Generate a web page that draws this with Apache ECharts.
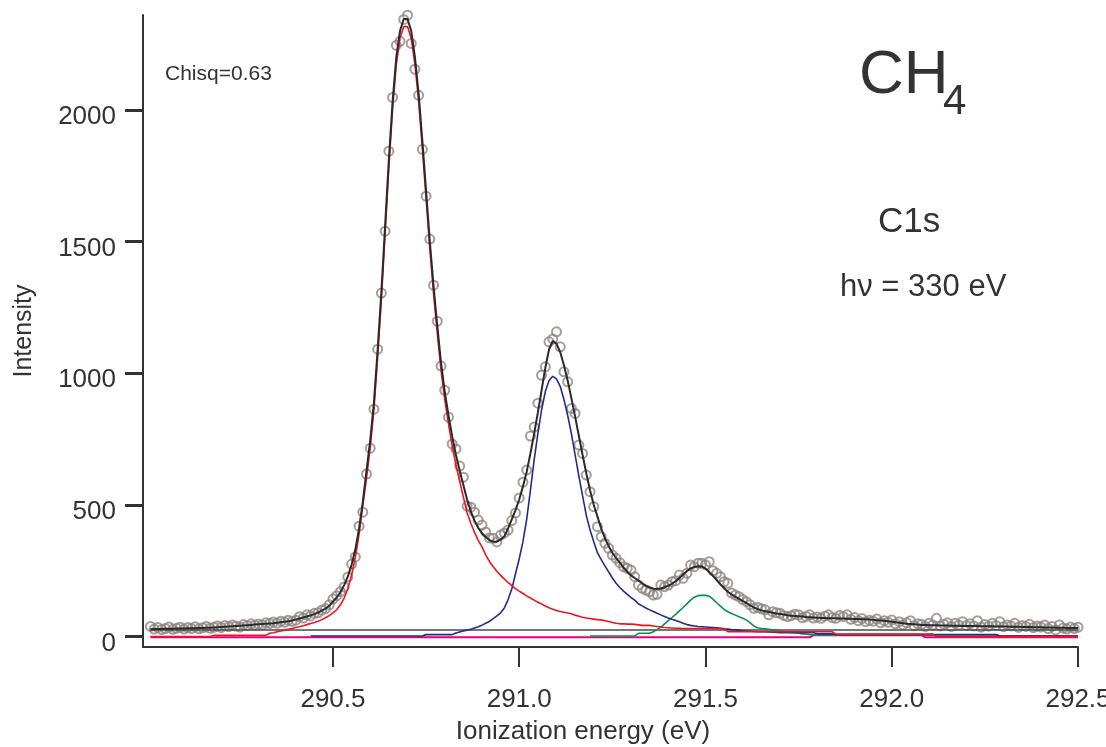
<!DOCTYPE html>
<html>
<head>
    <meta charset="utf-8">
    <title>CH4 C1s spectrum</title>
    <script src="https://cdn.jsdelivr.net/npm/echarts@6.0.0/dist/echarts.min.js"></script>
    <style>html, body { margin: 0; padding: 0; background: #fff; }</style>
</head>
<body>
    <div id="chart" style="width: 1106px; height: 747px;"></div>

    <script>
        // ionization energy grid (eV)
        const energy = [
            290.01,290.02,290.03,290.04,290.05,290.06,290.07,290.08,290.09,
            290.10,290.11,290.12,290.13,290.14,290.15,290.16,290.17,290.18,290.19,
            290.20,290.21,290.22,290.23,290.24,290.25,290.26,290.27,290.28,290.29,
            290.30,290.31,290.32,290.33,290.34,290.35,290.36,290.37,290.38,290.39,
            290.40,290.41,290.42,290.43,290.44,290.45,290.46,290.47,290.48,290.49,
            290.50,290.51,290.52,290.53,290.54,290.55,290.56,290.57,290.58,290.59,
            290.60,290.61,290.62,290.63,290.64,290.65,290.66,290.67,290.68,290.69,
            290.70,290.71,290.72,290.73,290.74,290.75,290.76,290.77,290.78,290.79,
            290.80,290.81,290.82,290.83,290.84,290.85,290.86,290.87,290.88,290.89,
            290.90,290.91,290.92,290.93,290.94,290.95,290.96,290.97,290.98,290.99,
            291.00,291.01,291.02,291.03,291.04,291.05,291.06,291.07,291.08,291.09,
            291.10,291.11,291.12,291.13,291.14,291.15,291.16,291.17,291.18,291.19,
            291.20,291.21,291.22,291.23,291.24,291.25,291.26,291.27,291.28,291.29,
            291.30,291.31,291.32,291.33,291.34,291.35,291.36,291.37,291.38,291.39,
            291.40,291.41,291.42,291.43,291.44,291.45,291.46,291.47,291.48,291.49,
            291.50,291.51,291.52,291.53,291.54,291.55,291.56,291.57,291.58,291.59,
            291.60,291.61,291.62,291.63,291.64,291.65,291.66,291.67,291.68,291.69,
            291.70,291.71,291.72,291.73,291.74,291.75,291.76,291.77,291.78,291.79,
            291.80,291.81,291.82,291.83,291.84,291.85,291.86,291.87,291.88,291.89,
            291.90,291.91,291.92,291.93,291.94,291.95,291.96,291.97,291.98,291.99,
            292.00,292.01,292.02,292.03,292.04,292.05,292.06,292.07,292.08,292.09,
            292.10,292.11,292.12,292.13,292.14,292.15,292.16,292.17,292.18,292.19,
            292.20,292.21,292.22,292.23,292.24,292.25,292.26,292.27,292.28,292.29,
            292.30,292.31,292.32,292.33,292.34,292.35,292.36,292.37,292.38,292.39,
            292.40,292.41,292.42,292.43,292.44,292.45,292.46,292.47,292.48,292.49,292.50
        ];

        // measured counts (open circles)
        const measured = [
            38,28,34,26,30,36,27,31,35,
            28,34,30,37,29,33,38,31,35,40,
            34,42,37,44,39,36,45,41,48,43,
            47,44,52,49,55,50,58,54,62,57,
            62,75,70,82,78,88,90,100,106,120,
            142,155,170,188,226,275,302,419,472,617,
            715,863,1091,1304,1539,1843,2047,2245,2260,2343,
            2359,2252,2154,2055,1850,1672,1509,1334,1197,1027,
            935,833,731,712,647,605,495,491,472,442,
            423,397,374,373,359,385,393,404,440,469,
            526,586,632,761,795,886,992,1024,1119,1130,
            1157,1100,1005,967,866,847,727,695,613,550,
            493,417,379,354,335,309,297,280,265,259,
            252,227,195,183,176,170,157,160,195,189,
            195,208,212,233,221,240,271,265,278,278,
            272,284,250,240,227,208,202,165,157,151,
            140,132,120,107,111,105,101,82,94,90,
            88,80,75,79,84,82,71,76,82,70,
            74,69,77,82,72,69,80,75,82,65,
            72,60,68,56,62,58,66,52,60,54,
            63,48,56,44,52,60,41,48,46,38,
            50,44,69,40,46,52,38,50,44,56,
            42,48,40,60,36,45,39,50,42,56,
            37,44,40,50,35,42,38,46,34,40,
            36,44,30,38,25,44,32,28,36,30,35
        ];

        // total fit (black)
        const fitTotal = [
            27,28,28,28,29,29,29,30,30,
            30,31,31,31,32,32,33,33,34,35,
            36,37,38,39,40,41,42,43,44,45,
            46,47,48,49,50,52,54,56,58,61,
            64,68,72,76,80,85,91,98,106,116,
            132,148,168,195,228,272,330,410,510,630,
            745,890,1090,1310,1560,1810,2030,2200,2300,2345,
            2345,2300,2200,2060,1880,1690,1500,1330,1180,1040,
            930,840,760,690,630,575,520,475,440,412,
            392,378,366,360,360,368,380,410,445,480,
            520,570,625,695,770,850,935,1020,1090,1122,
            1112,1080,1030,972,905,835,762,690,620,555,
            500,455,410,373,343,318,298,280,262,246,
            232,222,212,202,192,186,181,180,182,187,
            193,200,210,222,235,248,258,264,267,266,
            258,245,230,214,198,183,170,160,151,143,
            135,127,118,110,104,99,96,93,90,87,
            85,83,81,79,78,77,76,74,73,72,
            71,70,70,69,69,69,68,68,67,67,
            66,66,65,65,64,63,62,61,60,58,
            56,54,52,50,48,47,46,45,44,44,
            43,43,43,42,42,42,41,41,41,40,
            40,40,40,40,39,39,39,39,38,38,
            38,38,37,37,37,36,36,36,35,35,
            35,34,34,34,33,33,33,32,32,32,32
        ];

        // main component (red), starts 290.01
        const peakMain = [
            0,0,0,0,0,0,0,0,0,
            0,0,0,0,0,0,0,0,4,4,
            4,4,4,4,4,4,4,4,4,4,
            4,4,4,12,14,18,21,24,27,30,
            34,37,41,45,49,53,58,64,71,79,
            90,102,120,146,182,233,300,388,497,600,
            718,862,1062,1282,1532,1782,2002,2172,2272,2316,
            2316,2272,2172,2032,1852,1662,1472,1302,1152,1012,
            900,808,725,652,590,530,470,430,395,365,
            340,310,285,265,248,232,218,205,193,182,
            172,163,154,146,138,130,123,116,109,103,
            99,95,92,89,86,81,77,73,70,68,
            66,64,63,60,57,53,50,48,48,47,
            47,46,44,42,42,42,40,38,36,34,
            33,32,31,31,30,30,30,30,30,30,
            30,30,30,30,30,30,18,18,18,18,
            18,18,18,18,18,18,18,18,18,18,
            18,18,18,18,18,18,18,18,18,18,
            18,18,18,18,18,9,9,9,9,9,
            9,9,9,9,9,9,9,9,9,9,
            9,9,9,9,9,9,9,9,9,9,
            9,9,0,0,0,0,0,0,0,0,
            0,0,0,0,0,0,0,0,0,0,
            0,0,0,0,0,0,0,0,0,0,
            0,0,0,0,0,0,0,0,0,0,0
        ];

        // second component (blue), starts 290.44
        const peakSecond = [
            2,2,2,2,2,2,
            2,2,2,2,2,2,2,2,2,2,
            2,2,2,2,2,2,2,2,2,2,
            2,2,2,2,2,7,7,7,7,7,
            7,7,7,13,17,21,24,27,32,37,
            43,50,57,68,78,90,108,140,180,238,
            295,360,445,555,670,770,860,930,972,988,
            978,950,900,840,770,690,610,535,460,405,
            360,318,292,268,245,222,202,186,172,160,
            148,138,124,116,108,101,95,88,82,76,
            70,65,61,56,50,45,42,40,38,37,
            36,35,34,33,31,29,28,26,25,24,
            22,21,20,19,18,18,18,17,16,15,
            14,14,14,14,14,14,14,14,14,14,
            10,10,10,10,10,7,7,7,7,7,
            7,7,7,7,7,7,7,7,7,7,
            7,7,7,7,7,7,7,7,7,7,
            7,7,7,7,7,7,7,7,7,7,
            7,7,7,7,7,7,7,7,7,2,
            2,2,2,2,2,2,2,2,2,2,
            2,2,2,2,2,2,2,2,2,2,2
        ];

        // third component (green), starts 291.19
        const peakThird = [
            2,
            2,2,2,2,2,2,2,2,2,2,
            2,2,12,12,12,12,18,26,35,48,
            60,72,84,97,110,124,138,149,155,156,
            156,153,142,128,115,103,94,87,81,75,
            69,63,52,40,33,30,29,27,25,23,
            21,19,17,15,14,12,10,9,7,6,
            6,6,6,6,6,6,6,6,6,6,
            6,6,6,6,6,6,6,6,6,6,
            6,6,6,6,6,6,6,6,6,6,
            6,6,6,6,6,6,6,6,6,6,
            6,6,6,6,6,6,6,6,6,3,
            3,3,3,3,3,3,3,3,3,3,
            3,3,3,3,3,3,3,3,3,3,3
        ];

        // small component (magenta) and constant background (grey)
        const peakSmall = [[290.01, -3], [291.78, -3], [291.79, 5], [292.08, 5], [292.09, -3], [292.50, -3]];
        const background = [[290.01, 25], [292.50, 25]];

        const xTicks = [290.5, 291.0, 291.5, 292.0, 292.5];
        const yTicks = [0, 500, 1000, 1500, 2000];

        const font = '"Liberation Sans", Arial, Helvetica, sans-serif';
        const ink = '#333333';

        function pairs(values, start) {
            const i0 = energy.indexOf(start);
            return values.map((v, i) => [energy[i0 + i], v]);
        }

        const chart = echarts.init(document.getElementById('chart'));

        const lineSeries = (data, color, width) => ({
            type: 'line',
            data: data,
            showSymbol: false,
            symbol: 'none',
            smooth: false,
            lineStyle: { color: color, width: width },
            silent: true
        });

        const option = {
            animation: false,
            textStyle: { fontFamily: font },
            grid: {
                left: 143, right: 28, top: 15, bottom: 100,
                containLabel: false,
                outerBoundsMode: 'none'
            },
            xAxis: {
                type: 'value',
                min: 289.99,
                max: 292.5,
                name: 'Ionization energy (eV)',
                nameLocation: 'middle',
                nameGap: 72,
                nameTextStyle: { fontSize: 26, color: ink, fontFamily: font, padding: [0, 55, 0, 0] },
                axisLine: { show: true, onZero: false, lineStyle: { color: ink, width: 2 } },
                axisTick: { show: true, customValues: xTicks, length: 20, lineStyle: { color: ink, width: 2 } },
                axisLabel: {
                    customValues: xTicks,
                    formatter: (v) => v.toFixed(1),
                    fontSize: 26, color: ink, fontFamily: font, margin: 40
                },
                splitLine: { show: false }
            },
            yAxis: {
                type: 'value',
                min: -40,
                max: 2360,
                name: 'Intensity',
                nameLocation: 'middle',
                nameGap: 106,
                nameTextStyle: { fontSize: 25, color: ink, fontFamily: font },
                axisLine: { show: true, onZero: false, lineStyle: { color: ink, width: 2 } },
                axisTick: { show: true, customValues: yTicks, length: 18, lineStyle: { color: ink, width: 3 } },
                axisLabel: {
                    customValues: yTicks,
                    formatter: (v) => String(v),
                    fontSize: 26, color: ink, fontFamily: font, margin: 27,
                    verticalAlign: 'top',
                    lineHeight: 14
                },
                splitLine: { show: false }
            },
            graphic: [
                { type: 'text', left: 165, top: 64, style: { text: 'Chisq=0.63', font: '21px ' + font, fill: ink } },
                { type: 'text', left: 859, top: 45, style: { text: 'CH', font: '62px ' + font, fill: ink } },
                { type: 'text', left: 943, top: 81, style: { text: '4', font: '42px ' + font, fill: ink } },
                { type: 'text', left: 878, top: 205, style: { text: 'C1s', font: '35px ' + font, fill: ink } },
                { type: 'text', left: 840, top: 272, style: { text: 'hν = 330 eV', font: '31px ' + font, fill: ink } }
            ],
            series: [
                lineSeries(background, '#4a4a4a', 1.5),
                lineSeries(peakSmall, '#e8007a', 2),
                lineSeries(pairs(peakThird, 291.19), '#009650', 1.6),
                lineSeries(pairs(peakSecond, 290.44), '#262a8c', 1.6),
                lineSeries(pairs(peakMain, 290.01), '#f0141e', 1.6),
                {
                    type: 'scatter',
                    data: pairs(measured, 290.01),
                    symbol: 'circle',
                    symbolSize: 9,
                    itemStyle: { color: 'rgba(255,255,255,0)', borderColor: '#8e8480', borderWidth: 2 },
                    silent: true
                },
                lineSeries(pairs(fitTotal, 290.01), '#2a2a2a', 2)
            ]
        };

        chart.setOption(option);
    </script>
</body>
</html>
